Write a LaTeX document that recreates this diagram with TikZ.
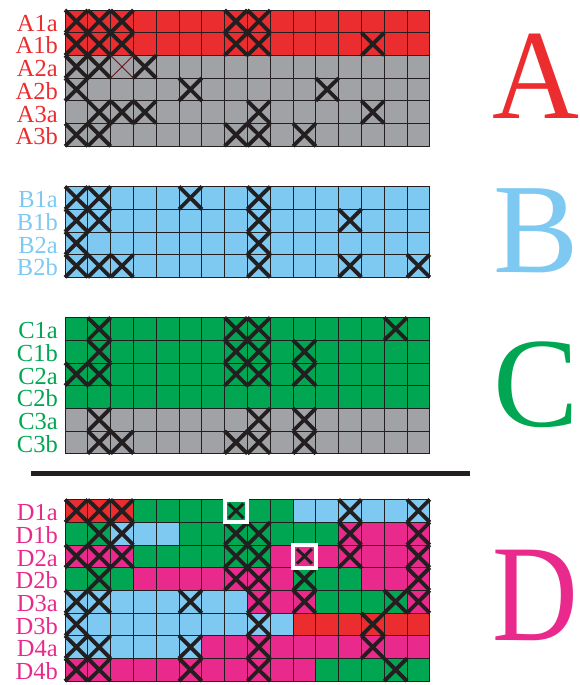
\documentclass[tikz,border=0pt]{standalone}
\usepackage{fontspec}
\setmainfont{Liberation Serif}
\usepackage{tikz}
\usetikzlibrary{positioning, calc}

\definecolor{cRed}{RGB}{236,45,48}
\definecolor{cGray}{RGB}{161,162,165}
\definecolor{cBlue}{RGB}{125,201,241}
\definecolor{cGreen}{RGB}{0,166,81}
\definecolor{cMag}{RGB}{233,42,140}
\definecolor{cDark}{RGB}{35,31,32}

\begin{document}
\begin{tikzpicture}[x=1pt, y=-1pt,
    gridline/.style={cDark, line width=0.8pt},
    xmark/.style={cDark, line width=3.8pt},
    smallxmark/.style={cDark, line width=3pt},
    rowlabel/.style={anchor=base east, inner sep=0pt, font=\fontsize{24.5}{24.5}\selectfont},
    bigletter/.style={anchor=base west, inner sep=0pt, font=\fontsize{128}{128}\selectfont}]

      \useasboundingbox (0,0) rectangle (580,685);

      % --- Define Dimensions ---
      \def\gx{65}
      \def\cw{22.8}
      \def\ch{22.7}
      \def\ay{10}
      \def\by{186.5}
      \def\cy{317.5}
      \def\dy{499.5}

      % --- Panel Colours (A, B, C) ---
      \fill[cRed]   (\gx,\ay) rectangle ++({16*\cw},{2*\ch});
      \fill[cGray]  (\gx,{\ay+2*\ch}) rectangle ++({16*\cw},{4*\ch});
      \fill[cBlue]  (\gx,\by) rectangle ++({16*\cw},{4*\ch});
      \fill[cGreen] (\gx,\cy) rectangle ++({16*\cw},{4*\ch});
      \fill[cGray]  (\gx,{\cy+4*\ch}) rectangle ++({16*\cw},{2*\ch});

      % --- Panel D Colours (row/from/to/colour) ---
      \foreach \r/\a/\b/\col in {1/1/3/cRed, 1/4/10/cGreen, 1/11/16/cBlue,
                                 2/1/2/cGreen, 2/3/5/cBlue, 2/6/12/cGreen, 2/13/16/cMag,
                                 3/1/3/cMag, 3/4/9/cGreen, 3/10/16/cMag,
                                 4/1/3/cGreen, 4/4/10/cMag, 4/11/13/cGreen, 4/14/16/cMag,
                                 5/1/8/cBlue, 5/9/11/cMag, 5/12/15/cGreen, 5/16/16/cMag,
                                 6/1/10/cBlue, 6/11/16/cRed,
                                 7/1/6/cBlue, 7/7/16/cMag,
                                 8/1/11/cMag, 8/12/16/cGreen} {
        \fill[\col] ({\gx+(\a-1)*\cw},{\dy+(\r-1)*\ch}) rectangle ({\gx+\b*\cw},{\dy+\r*\ch});
      }

      % --- Grid Lines ---
      \foreach \p/\n in {\ay/6, \by/4, \cy/6, \dy/8} {
        \foreach \i in {0,...,16}
          \draw[gridline] ({\gx+\i*\cw},\p) -- ++(0,{\n*\ch});
        \foreach \j in {0,...,\n}
          \draw[gridline] (\gx,{\p+\j*\ch}) -- ++({16*\cw},0);
      }

      % --- Crosses (panel top/row/columns) ---
      \foreach \p/\r/\cols in {\ay/1/{1,2,3,8,9}, \ay/2/{1,2,3,8,9,14}, \ay/3/{1,2,4},
                               \ay/4/{1,6,12}, \ay/5/{2,3,4,9,14}, \ay/6/{1,2,8,9,11},
                               \by/1/{1,2,6,9}, \by/2/{1,2,9,13}, \by/3/{1,9},
                               \by/4/{1,2,3,9,13,16},
                               \cy/1/{2,8,9,15}, \cy/2/{2,8,9,11}, \cy/3/{1,2,8,9,11},
                               \cy/5/{2,9,11}, \cy/6/{2,3,8,9,11},
                               \dy/1/{1,2,3,13,16}, \dy/2/{2,3,8,9,13,16},
                               \dy/3/{1,2,3,8,9,13,16}, \dy/4/{2,8,9,11,16},
                               \dy/5/{1,2,6,9,11,15,16}, \dy/6/{1,9,14},
                               \dy/7/{1,2,6,9,14}, \dy/8/{1,2,6,9,15}} {
        \foreach \c in \cols
          \draw[xmark] ({\gx+(\c-1)*\cw},{\p+(\r-1)*\ch}) -- ++(\cw,\ch) ++(-\cw,0) -- ++(\cw,-\ch);
      }

      % faint cross in A2a
      \draw[cRed!45!black, line width=0.8pt] ({\gx+2*\cw},{\ay+2*\ch}) -- ++(\cw,\ch) ++(-\cw,0) -- ++(\cw,-\ch);

      % --- Boxed Cells in D ---
      \foreach \c/\r in {8/1, 11/3} {
        \draw[white, line width=4pt] ({\gx+(\c-1)*\cw},{\dy+(\r-1)*\ch}) rectangle ++(\cw,\ch);
        \draw[smallxmark] ({\gx+(\c-1)*\cw+4},{\dy+(\r-1)*\ch+4}) -- ++({\cw-8},{\ch-8})
                          ++({8-\cw},0) -- ++({\cw-8},{8-\ch});
      }

      % --- Separator ---
      \draw[cDark, line width=5pt] (31,473) -- (470,473);

      % --- Row Labels ---
      \foreach \t [count=\i] in {A1a,A1b,A2a,A2b,A3a,A3b}
        \node[rowlabel, text=cRed] (lab\t) at (58,{\ay+\i*\ch-1.5}) {\t};
      \foreach \t [count=\i] in {B1a,B1b,B2a,B2b}
        \node[rowlabel, text=cBlue] (lab\t) at (58,{\by+\i*\ch-1.5}) {\t};
      \foreach \t [count=\i] in {C1a,C1b,C2a,C2b,C3a,C3b}
        \node[rowlabel, text=cGreen] (lab\t) at (58,{\cy+\i*\ch-1.5}) {\t};
      \foreach \t [count=\i] in {D1a,D1b,D2a,D2b,D3a,D3b,D4a,D4b}
        \node[rowlabel, text=cMag] (lab\t) at (58,{\dy+\i*\ch-1.5}) {\t};

      % --- Panel Letters ---
      \node[bigletter, text=cRed, xscale=0.94]  (panelA) at (492,118) {A};
      \node[bigletter, text=cBlue]  (panelB) at (493,272) {B};
      \node[bigletter, text=cGreen] (panelC) at (493,426) {C};
      \node[bigletter, text=cMag, xscale=0.86, font=\fontsize{138}{138}\selectfont] (panelD) at (492,640) {D};

\end{tikzpicture}
\end{document}
